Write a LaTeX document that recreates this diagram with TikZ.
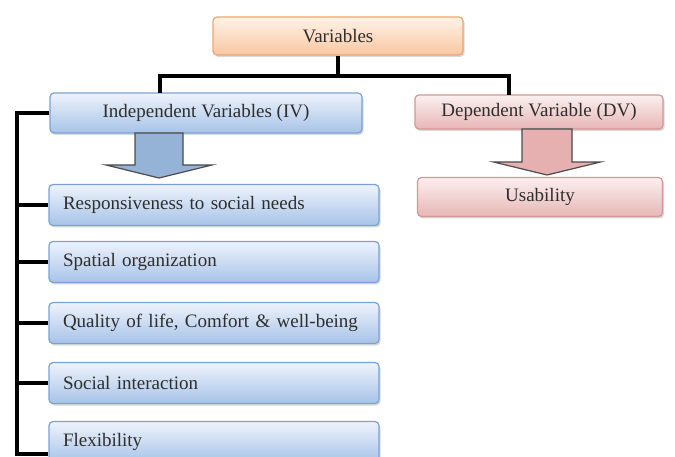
\documentclass[tikz,border=0pt]{standalone}
\usepackage{fontspec}
\setmainfont{Liberation Serif}
\usepackage{tikz}
\usetikzlibrary{positioning, calc, shadows}

\definecolor{ivtop}{HTML}{EEF3FB}
\definecolor{ivbot}{HTML}{A7C3E8}
\definecolor{ivline}{HTML}{7BA2D6}
\definecolor{ivfill}{HTML}{95B3D7}
\definecolor{dvtop}{HTML}{FBF0F0}
\definecolor{dvbot}{HTML}{E7B6B5}
\definecolor{dvline}{HTML}{D49796}
\definecolor{dvfill}{HTML}{E6B0B0}
\definecolor{vartop}{HTML}{FFF2E8}
\definecolor{varbot}{HTML}{F9C7A2}
\definecolor{varline}{HTML}{F4A36C}
\definecolor{txt}{HTML}{2E2E2E}

\begin{document}
\begin{tikzpicture}[
    x = 1pt, y = -1pt,
    font = \fontsize{19}{22}\selectfont, text = txt,
    box/.style={rectangle, rounded corners=4pt, line width=1.2pt,
        drop shadow={shadow xshift=1.5pt, shadow yshift=-2pt, opacity=0.3}},
    varbox/.style={box, draw=varline, top color=vartop, bottom color=varbot},
    ivbox/.style={box, draw=ivline, top color=ivtop, bottom color=ivbot},
    dvbox/.style={box, draw=dvline, top color=dvtop, bottom color=dvbot},
    item/.style={ivbox, minimum width=330pt, minimum height=41pt,
        text width=302pt, inner xsep=14pt, align=left},
    link/.style={line width=3.2pt, line join=miter},
    blockarrow/.style={draw=black!70, line width=1.2pt, line join=miter}
]
\useasboundingbox (0,0) rectangle (675,457);

% 1. TOP
\node[varbox, minimum width=250pt, minimum height=38pt] (var) at (338,36) {Variables};

\node[ivbox, minimum width=312pt, minimum height=40pt] (iv) at (206,113) {Independent Variables (IV)};
\node[dvbox, minimum width=248pt, minimum height=34pt] (dv) at (539,112) {Dependent Variable (DV)};

\coordinate (split) at (338,76);
\coordinate (ivdrop) at (160,93);
\coordinate (dvdrop) at (509,95);
\draw[link] (var.south) -- (split);
\draw[link] (ivdrop) |- (split) -| (dvdrop);

% 2. INDEPENDENT
\node[item] (resp) at (214,205) {Responsiveness to social needs};
\node[item] (spat) at (214,262) {Spatial organization};
\node[item] (qual) at (214,323) {Quality of life, Comfort \& well-being};
\node[item] (soc)  at (214,383) {Social interaction};
\node[item] (flex) at (214,442) {Flexibility};

\coordinate (railtop) at (17,113);
\coordinate (railbot) at (17,454);
\draw[link] (iv.west) -- (railtop) -- (railbot) -- (railbot -| flex.west);
\draw[link] (resp.west) -- (resp.west -| railtop);
\draw[link] (spat.west) -- (spat.west -| railtop);
\draw[link] (qual.west) -- (qual.west -| railtop);
\draw[link] (soc.west)  -- (soc.west -| railtop);

\coordinate (ivarrow) at (159,133);
\draw[blockarrow, fill=ivfill] ([xshift=-24pt]ivarrow) -- ++(0,32) -- ++(-29,0)
    -- ++(53,13) -- ++(53,-13) -- ++(-29,0) -- ++(0,-32) -- cycle;

% 3. DEPENDENT
\node[dvbox, minimum width=245pt, minimum height=39pt] (use) at (540,197) {Usability};

\coordinate (dvarrow) at (547,129);
\draw[blockarrow, fill=dvfill] ([xshift=-25pt]dvarrow) -- ++(0,33) -- ++(-28.5,0)
    -- ++(53.5,13) -- ++(53.5,-13) -- ++(-28.5,0) -- ++(0,-33) -- cycle;
\end{tikzpicture}
\end{document}
